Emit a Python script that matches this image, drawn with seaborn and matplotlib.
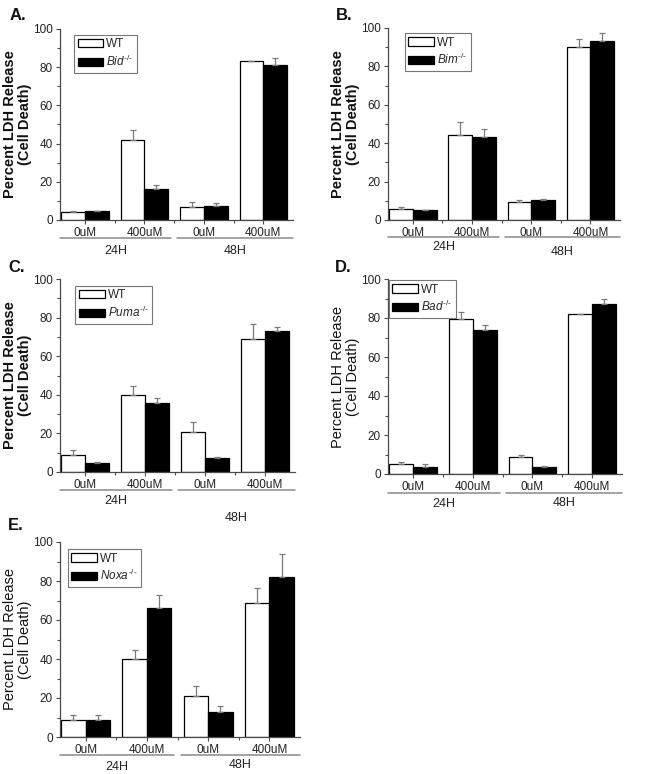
import numpy as np
import pandas as pd
import matplotlib
matplotlib.use('Agg')
import matplotlib.pyplot as plt
from matplotlib.patches import Patch
import seaborn as sns

# ── Data ─────────────────────────────────────────────────────────────────────
conditions = ["24H_0uM", "24H_400uM", "48H_0uM", "48H_400uM"]
dose_labels = ["0uM", "400uM", "0uM", "400uM"]
time_labels = ["24H", "48H"]
panel_letters = ["A.", "B.", "C.", "D.", "E."]
ko_names = ["Bid", "Bim", "Puma", "Bad", "Noxa"]

wt_A = [4.4, 42.0, 7.0, 83.0]
wt_A_err = [0.5, 5.0, 2.5, 0.4]
ko_A = [4.7, 16.0, 7.5, 81.0]
ko_A_err = [0.2, 2.4, 1.6, 3.7]

wt_B = [5.9, 44.5, 9.2, 90.0]
wt_B_err = [1.1, 6.3, 1.1, 4.4]
ko_B = [5.0, 43.1, 10.3, 93.0]
ko_B_err = [0.3, 4.2, 0.5, 4.2]

wt_C = [9.0, 40.0, 20.9, 69.0]
wt_C_err = [2.6, 4.7, 5.1, 7.6]
ko_C = [4.5, 35.9, 7.2, 73.1]
ko_C_err = [0.5, 2.7, 0.6, 2.1]

wt_D = [5.1, 79.5, 8.7, 81.9]
wt_D_err = [1.2, 3.4, 1.0, 0.3]
ko_D = [3.4, 73.7, 3.4, 87.0]
ko_D_err = [1.6, 2.7, 0.5, 2.6]

wt_E = [8.9, 40.0, 20.9, 68.9]
wt_E_err = [2.6, 4.6, 5.1, 7.5]
ko_E = [8.7, 66.3, 13.0, 82.0]
ko_E_err = [2.4, 6.7, 2.9, 12.0]

panels = [
    (wt_A, wt_A_err, ko_A, ko_A_err),
    (wt_B, wt_B_err, ko_B, ko_B_err),
    (wt_C, wt_C_err, ko_C, ko_C_err),
    (wt_D, wt_D_err, ko_D, ko_D_err),
    (wt_E, wt_E_err, ko_E, ko_E_err),
]

# ── Layout (figure pixels: left, top, right, bottom) ────────────────────────
W, H = 647, 774
boxes = [(60, 29, 293, 220), (388, 28, 620, 220), (60, 279, 295, 472),
         (388, 279, 622, 474), (60, 542, 300, 737)]
letter_pos = [(10, 15), (336, 15), (8, 268), (335, 268), (8, 525)]
legend_anchor = [(0.06, 0.97), (0.073, 0.974), (0.064, 0.964),
                 (0.004, 0.995), (0.033, 0.964)]
bold_ylabel = [True, True, True, False, False]
line_drop = [18, 17, 18, 19, 18]                       # px below x axis
time_drop = [(31, 31), (27, 32), (29, 46), (30, 29), (30, 28)]

sns.set_theme(style="ticks")
plt.rcParams['font.family'] = ['Liberation Sans', 'DejaVu Sans']
plt.rcParams['mathtext.fontset'] = 'custom'
plt.rcParams['mathtext.rm'] = 'Liberation Sans'
plt.rcParams['mathtext.it'] = 'Liberation Sans:italic'

fig = plt.figure(figsize=(W / 100, H / 100), dpi=100)
spine_col = '#4a4a4a'

for i, (wt, wt_err, ko, ko_err) in enumerate(panels):
    l, t, r, b = boxes[i]
    ax = fig.add_axes([l / W, 1 - b / H, (r - l) / W, (b - t) / H])
    axh = b - t

    ko_label = r"$%s^{\text{-/-}}$" % ko_names[i]
    df = pd.DataFrame({
        'condition': conditions * 2,
        'value': wt + ko,
        'err': wt_err + ko_err,
        'genotype': ['WT'] * 4 + [ko_label] * 4,
    })

    sns.barplot(data=df, x='condition', y='value', hue='genotype',
                order=conditions, hue_order=['WT', ko_label],
                palette={'WT': 'white', ko_label: 'black'},
                edgecolor='black', linewidth=0.9, width=0.8,
                errorbar=None, legend=False, ax=ax)

    # upward-only error bars placed on the drawn bars
    bars = ax.patches[:8]
    xs = [p.get_x() + p.get_width() / 2 for p in bars]
    ys = [p.get_height() for p in bars]
    errs = df['err'].tolist()
    ax.errorbar(xs, ys, yerr=[np.zeros(len(errs)), errs], fmt='none',
                ecolor='#7a7a7a', elinewidth=0.9, capsize=2.2, capthick=0.9,
                zorder=1)

    ax.set_xlim(-0.42, 3.5)
    ax.set_ylim(0, 100)
    ax.set_yticks(np.arange(0, 101, 20))
    ax.set_yticks(np.arange(10, 100, 20), minor=True)
    ax.set_xticks(range(4))
    ax.set_xticks([0.5, 1.5, 2.5], minor=True)
    ax.set_xticklabels(dose_labels)
    ax.tick_params(axis='both', which='major', labelsize=8.5, length=3,
                   width=0.8, color=spine_col, pad=2, labelcolor='#222222')
    ax.tick_params(axis='both', which='minor', length=2, width=0.8,
                   color=spine_col)
    sns.despine(ax=ax)
    for s in ['left', 'bottom']:
        ax.spines[s].set_color(spine_col)
        ax.spines[s].set_linewidth(0.9)

    ax.set_xlabel('')
    ax.set_ylabel("Percent LDH Release\n(Cell Death)", fontsize=10.5,
                  fontweight='bold' if bold_ylabel[i] else 'normal',
                  labelpad=1, linespacing=1.05, color='#111111')

    # time-point group lines and labels below the dose labels
    trans = ax.get_xaxis_transform()
    for g, (x0, x1) in enumerate([(-0.42, 1.45), (1.55, 3.5)]):
        ax.plot([x0, x1], [-line_drop[i] / axh] * 2, color='#8a8a8a', lw=1.1,
                transform=trans, clip_on=False)
        ax.text((x0 + x1) / 2, -time_drop[i][g] / axh, time_labels[g],
                transform=trans, ha='center', va='center', fontsize=9,
                color='#222222')

    handles = [Patch(facecolor='white', edgecolor='black', linewidth=0.9),
               Patch(facecolor='black', edgecolor='black', linewidth=0.9)]
    leg = ax.legend(handles, ['WT', ko_label], loc='upper left',
                    bbox_to_anchor=legend_anchor[i], fontsize=8.5, frameon=True,
                    fancybox=False, edgecolor='#777777', framealpha=1,
                    handlelength=2.2, handleheight=0.7, handletextpad=0.25,
                    labelspacing=0.3, borderpad=0.3, borderaxespad=0)
    leg.get_frame().set_linewidth(0.8)

    lx, ly = letter_pos[i]
    fig.text(lx / W, 1 - ly / H, panel_letters[i], fontsize=12,
             fontweight='bold', ha='left', va='center', color='#111111')

fig.savefig('out.png', dpi=100)
